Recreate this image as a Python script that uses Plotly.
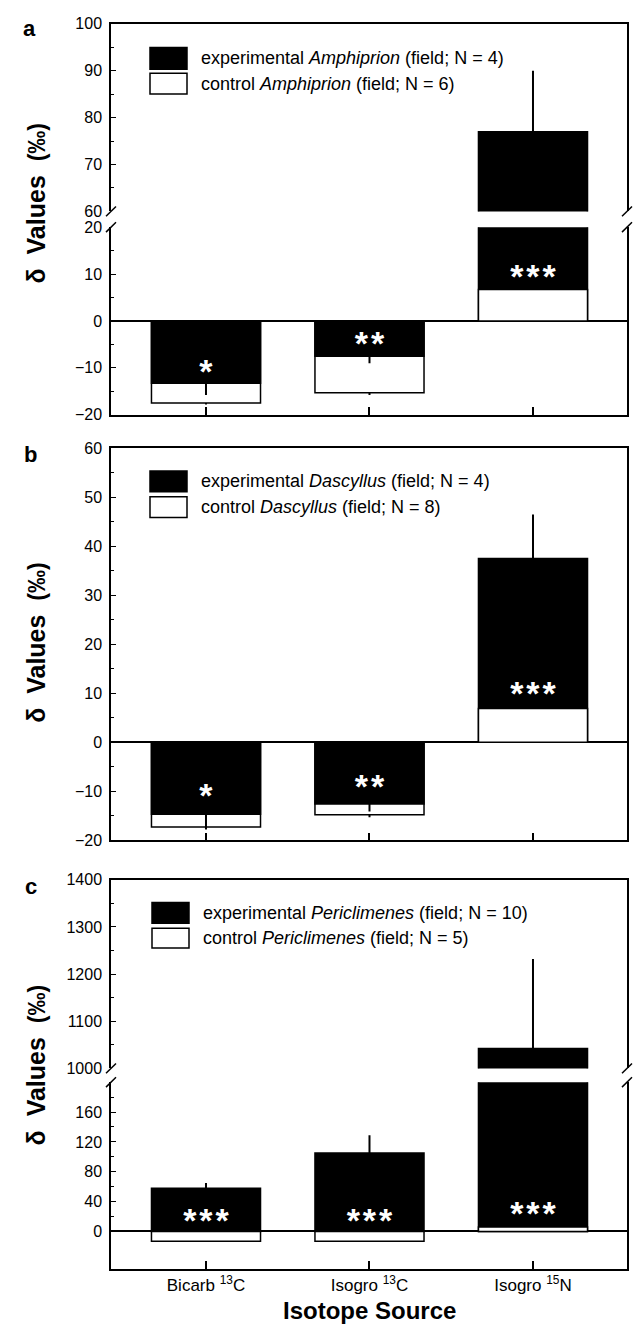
import plotly.graph_objects as go

# ---------------- data ----------------
categories = ["Bicarb <sup>13</sup>C", "Isogro <sup>13</sup>C", "Isogro <sup>15</sup>N"]

a_exp = [-13.3, -7.5, 77.0]
a_exp_err = [2.5, 1.5, 13.0]
a_ctrl = [-17.5, -15.3, 6.7]
a_ctrl_err = [0.3, 0.5, 0.5]
a_sig = ["*", "**", "***"]
a_sig_y = [-11.4, -5.5, 8.8]

b_exp = [-14.7, -12.6, 37.5]
b_exp_err = [3.0, 1.5, 9.0]
b_ctrl = [-17.3, -14.8, 6.9]
b_ctrl_err = [0.5, 0.5, 0.4]
b_sig = ["*", "**", "***"]
b_sig_y = [-11.4, -9.7, 9.4]

c_exp = [58.0, 105.0, 1042.0]
c_exp_err = [7.0, 24.0, 190.0]
c_ctrl = [-13.0, -13.0, 6.0]
c_ctrl_err = [1.0, 1.0, 1.0]
c_sig = ["***", "***", "***"]
c_sig_y = [11.0, 11.0, 20.0]

legend_a = ["experimental <i>Amphiprion</i> (field; N = 4)", "control <i>Amphiprion</i> (field; N = 6)"]
legend_b = ["experimental <i>Dascyllus</i> (field; N = 4)", "control <i>Dascyllus</i> (field; N = 8)"]
legend_c = ["experimental <i>Periclimenes</i> (field; N = 10)", "control <i>Periclimenes</i> (field; N = 5)"]

# ---------------- layout helpers ----------------
W, H = 635, 1341
FONT = "Liberation Sans"
XL, XR = 111, 627


def px(x):
    return x / W


def py(y):
    return 1 - y / H


def spaced(s):
    return "\u200a".join(list(s))


fig = go.Figure()


def add_layer(vals, errs, cols, xa, ya):
    plus = [e if v > 0 else 0 for v, e in zip(vals, errs)]
    minus = [e if v < 0 else 0 for v, e in zip(vals, errs)]
    fig.add_trace(go.Bar(
        x=categories, y=vals, xaxis=xa, yaxis=ya, width=0.667,
        marker=dict(color=cols, line=dict(color="black", width=1.5)),
        error_y=dict(type="data", symmetric=False, array=plus, arrayminus=minus,
                     color="black", thickness=2, width=0),
        hoverinfo="skip", showlegend=False,
    ))


def add_panel_bars(exp, exp_err, ctrl, ctrl_err, xa, ya):
    # the taller bar of each pair is drawn behind, the shorter one in front
    back_v, back_e, back_c, front_v, front_e, front_c = [], [], [], [], [], []
    for ev, ee, cv, ce in zip(exp, exp_err, ctrl, ctrl_err):
        if abs(ev) >= abs(cv):
            back_v.append(ev); back_e.append(ee); back_c.append("black")
            front_v.append(cv); front_e.append(ce); front_c.append("white")
        else:
            back_v.append(cv); back_e.append(ce); back_c.append("white")
            front_v.append(ev); front_e.append(ee); front_c.append("black")
    add_layer(back_v, back_e, back_c, xa, ya)
    add_layer(front_v, front_e, front_c, xa, ya)


def add_sig(labels, ys, xa, ya):
    fig.add_trace(go.Scatter(
        x=categories, y=ys, xaxis=xa, yaxis=ya, mode="text",
        text=[spaced(s) for s in labels], textposition="middle center",
        textfont=dict(color="white", size=34, family=FONT, weight="bold"),
        hoverinfo="skip", showlegend=False,
    ))


# panel a: upper (x, y) and lower (x2, y2)
for xa, ya in (("x", "y"), ("x2", "y2")):
    add_panel_bars(a_exp, a_exp_err, a_ctrl, a_ctrl_err, xa, ya)
add_sig(a_sig, a_sig_y, "x2", "y2")

# panel b (x3, y3)
add_panel_bars(b_exp, b_exp_err, b_ctrl, b_ctrl_err, "x3", "y3")
add_sig(b_sig, b_sig_y, "x3", "y3")

# panel c: upper (x4, y4) and lower (x5, y5)
for xa, ya in (("x4", "y4"), ("x5", "y5")):
    add_panel_bars(c_exp, c_exp_err, c_ctrl, c_ctrl_err, xa, ya)
add_sig(c_sig, c_sig_y, "x5", "y5")

xrange_ = [-0.581, 2.575]
tickfont = dict(family=FONT, size=16, color="black")


def xaxis(anchor, kind, labels=False):
    d = dict(domain=[px(XL), px(XR)], anchor=anchor, type="category", range=xrange_,
             showline=True, linecolor="black", linewidth=1.5, showgrid=False,
             zeroline=False, tickfont=dict(family=FONT, size=17, color="black"),
             fixedrange=True)
    if kind == "top":
        d.update(side="top", ticks="", showticklabels=False, mirror=False)
    elif kind == "bottom":
        d.update(side="bottom", ticks="inside", ticklen=8, tickwidth=1.5,
                 tickcolor="black", showticklabels=labels, mirror=False)
    else:
        d.update(side="bottom", ticks="inside", ticklen=8, tickwidth=1.5,
                 tickcolor="black", showticklabels=labels, mirror=True)
    return d


def yaxis(anchor, top_px, bot_px, rng, dtick, minor_dtick, tick0=0, zero=False, tickvals=None):
    d = dict(domain=[py(bot_px), py(top_px)], anchor=anchor, range=rng,
             showline=True, mirror=True, linecolor="black", linewidth=1.5,
             ticks="inside", ticklen=5, tickwidth=1, tickcolor="black",
             showgrid=False, tickfont=tickfont, ticklabelstandoff=4,
             minor=dict(ticks="inside", ticklen=3, tickwidth=1, tickcolor="black",
                        dtick=minor_dtick, tick0=tick0, showgrid=False),
             zeroline=zero, zerolinecolor="black", zerolinewidth=1.5,
             fixedrange=True)
    if tickvals is not None:
        d.update(tickmode="array", tickvals=tickvals)
    else:
        d.update(dtick=dtick, tick0=tick0)
    return d


A_UP = (16, 206)
A_LO = (222, 412)
B = (446, 843)
C_UP = (883, 1074)
C_LO = (1088, 1277)

fig.update_layout(
    width=W, height=H, margin=dict(l=0, r=0, t=0, b=0),
    paper_bgcolor="white", plot_bgcolor="rgba(0,0,0,0)",
    barmode="overlay", showlegend=False,
    font=dict(family=FONT, color="black"),
    xaxis=xaxis("y", "top"),
    yaxis=yaxis("x", A_UP[0], A_UP[1], [60, 100], 10, 5, tick0=60),
    xaxis2=xaxis("y2", "bottom"),
    yaxis2=yaxis("x2", A_LO[0], A_LO[1], [-20, 20], 10, 5, zero=True),
    xaxis3=xaxis("y3", "box"),
    yaxis3=yaxis("x3", B[0], B[1], [-20, 60], 10, 5, zero=True),
    xaxis4=xaxis("y4", "top"),
    yaxis4=yaxis("x4", C_UP[0], C_UP[1], [1000, 1400], 100, 50, tick0=1000),
    xaxis5=xaxis("y5", "bottom", labels=True),
    yaxis5=yaxis("x5", C_LO[0], C_LO[1], [-50, 200], 40, 40, tick0=20,
                 zero=True, tickvals=[0, 40, 80, 120, 160]),
)
fig.layout.yaxis5.minor.update(tickmode="array", tickvals=[20, 60, 100, 140, 180])

shapes = []
annotations = []

# axis break slashes
for (yb, yt) in ((A_UP[1], A_LO[0]), (C_UP[1], C_LO[0])):
    for xx in (XL, XR):
        for yy in (yb, yt):
            shapes.append(dict(type="line", xref="paper", yref="paper",
                               x0=px(xx - 5), y0=py(yy + 5), x1=px(xx + 5), y1=py(yy - 5),
                               line=dict(color="black", width=1.5)))

# legends
for texts, (bx0, bx1, tx), (r1, r2) in (
    (legend_a, (150, 187, 199), ((40, 62), (66, 87))),
    (legend_b, (150, 187, 199), ((469, 490), (495, 516))),
    (legend_c, (152, 189, 201), ((906, 927), (932, 952))),
):
    for txt, (y0, y1), fill in zip(texts, (r1, r2), ("black", "white")):
        shapes.append(dict(type="rect", xref="paper", yref="paper",
                           x0=px(bx0), x1=px(bx1), y0=py(y1), y1=py(y0),
                           fillcolor=fill, line=dict(color="black", width=1.5)))
        annotations.append(dict(xref="paper", yref="paper", x=px(tx), y=py((y0 + y1) / 2),
                                xanchor="left", yanchor="middle", showarrow=False,
                                text=txt, font=dict(family=FONT, size=18, color="black")))

# panel letters
for letter, (lx, ly) in (("a", (29, 21)), ("b", (30, 452)), ("c", (31, 890))):
    annotations.append(dict(xref="paper", yref="paper", x=px(lx), y=py(ly),
                            xanchor="center", yanchor="middle", showarrow=False,
                            text=f"<b>{letter}</b>", font=dict(family=FONT, size=22, color="black")))

# y titles
ytitle = ("<b>\u03b4\u00a0\u00a0Values\u00a0\u00a0"
          "<span style='font-size:23px'>(\u2030)</span></b>")
for cy in (198, 643, 1071):
    annotations.append(dict(xref="paper", yref="paper", x=px(36), y=py(cy),
                            xanchor="center", yanchor="middle", showarrow=False,
                            textangle=-90, text=ytitle,
                            font=dict(family=FONT, size=25, color="black")))

# x title
annotations.append(dict(xref="paper", yref="paper", x=px((XL + XR) / 2), y=py(1319),
                        xanchor="center", yanchor="middle", showarrow=False,
                        text="<b>Isotope Source</b>",
                        font=dict(family=FONT, size=24, color="black")))

fig.update_layout(shapes=shapes, annotations=annotations)
fig.write_html("out.html", config={"displayModeBar": False},
               post_script="document.body.style.margin='0px';document.body.style.padding='0px';")
